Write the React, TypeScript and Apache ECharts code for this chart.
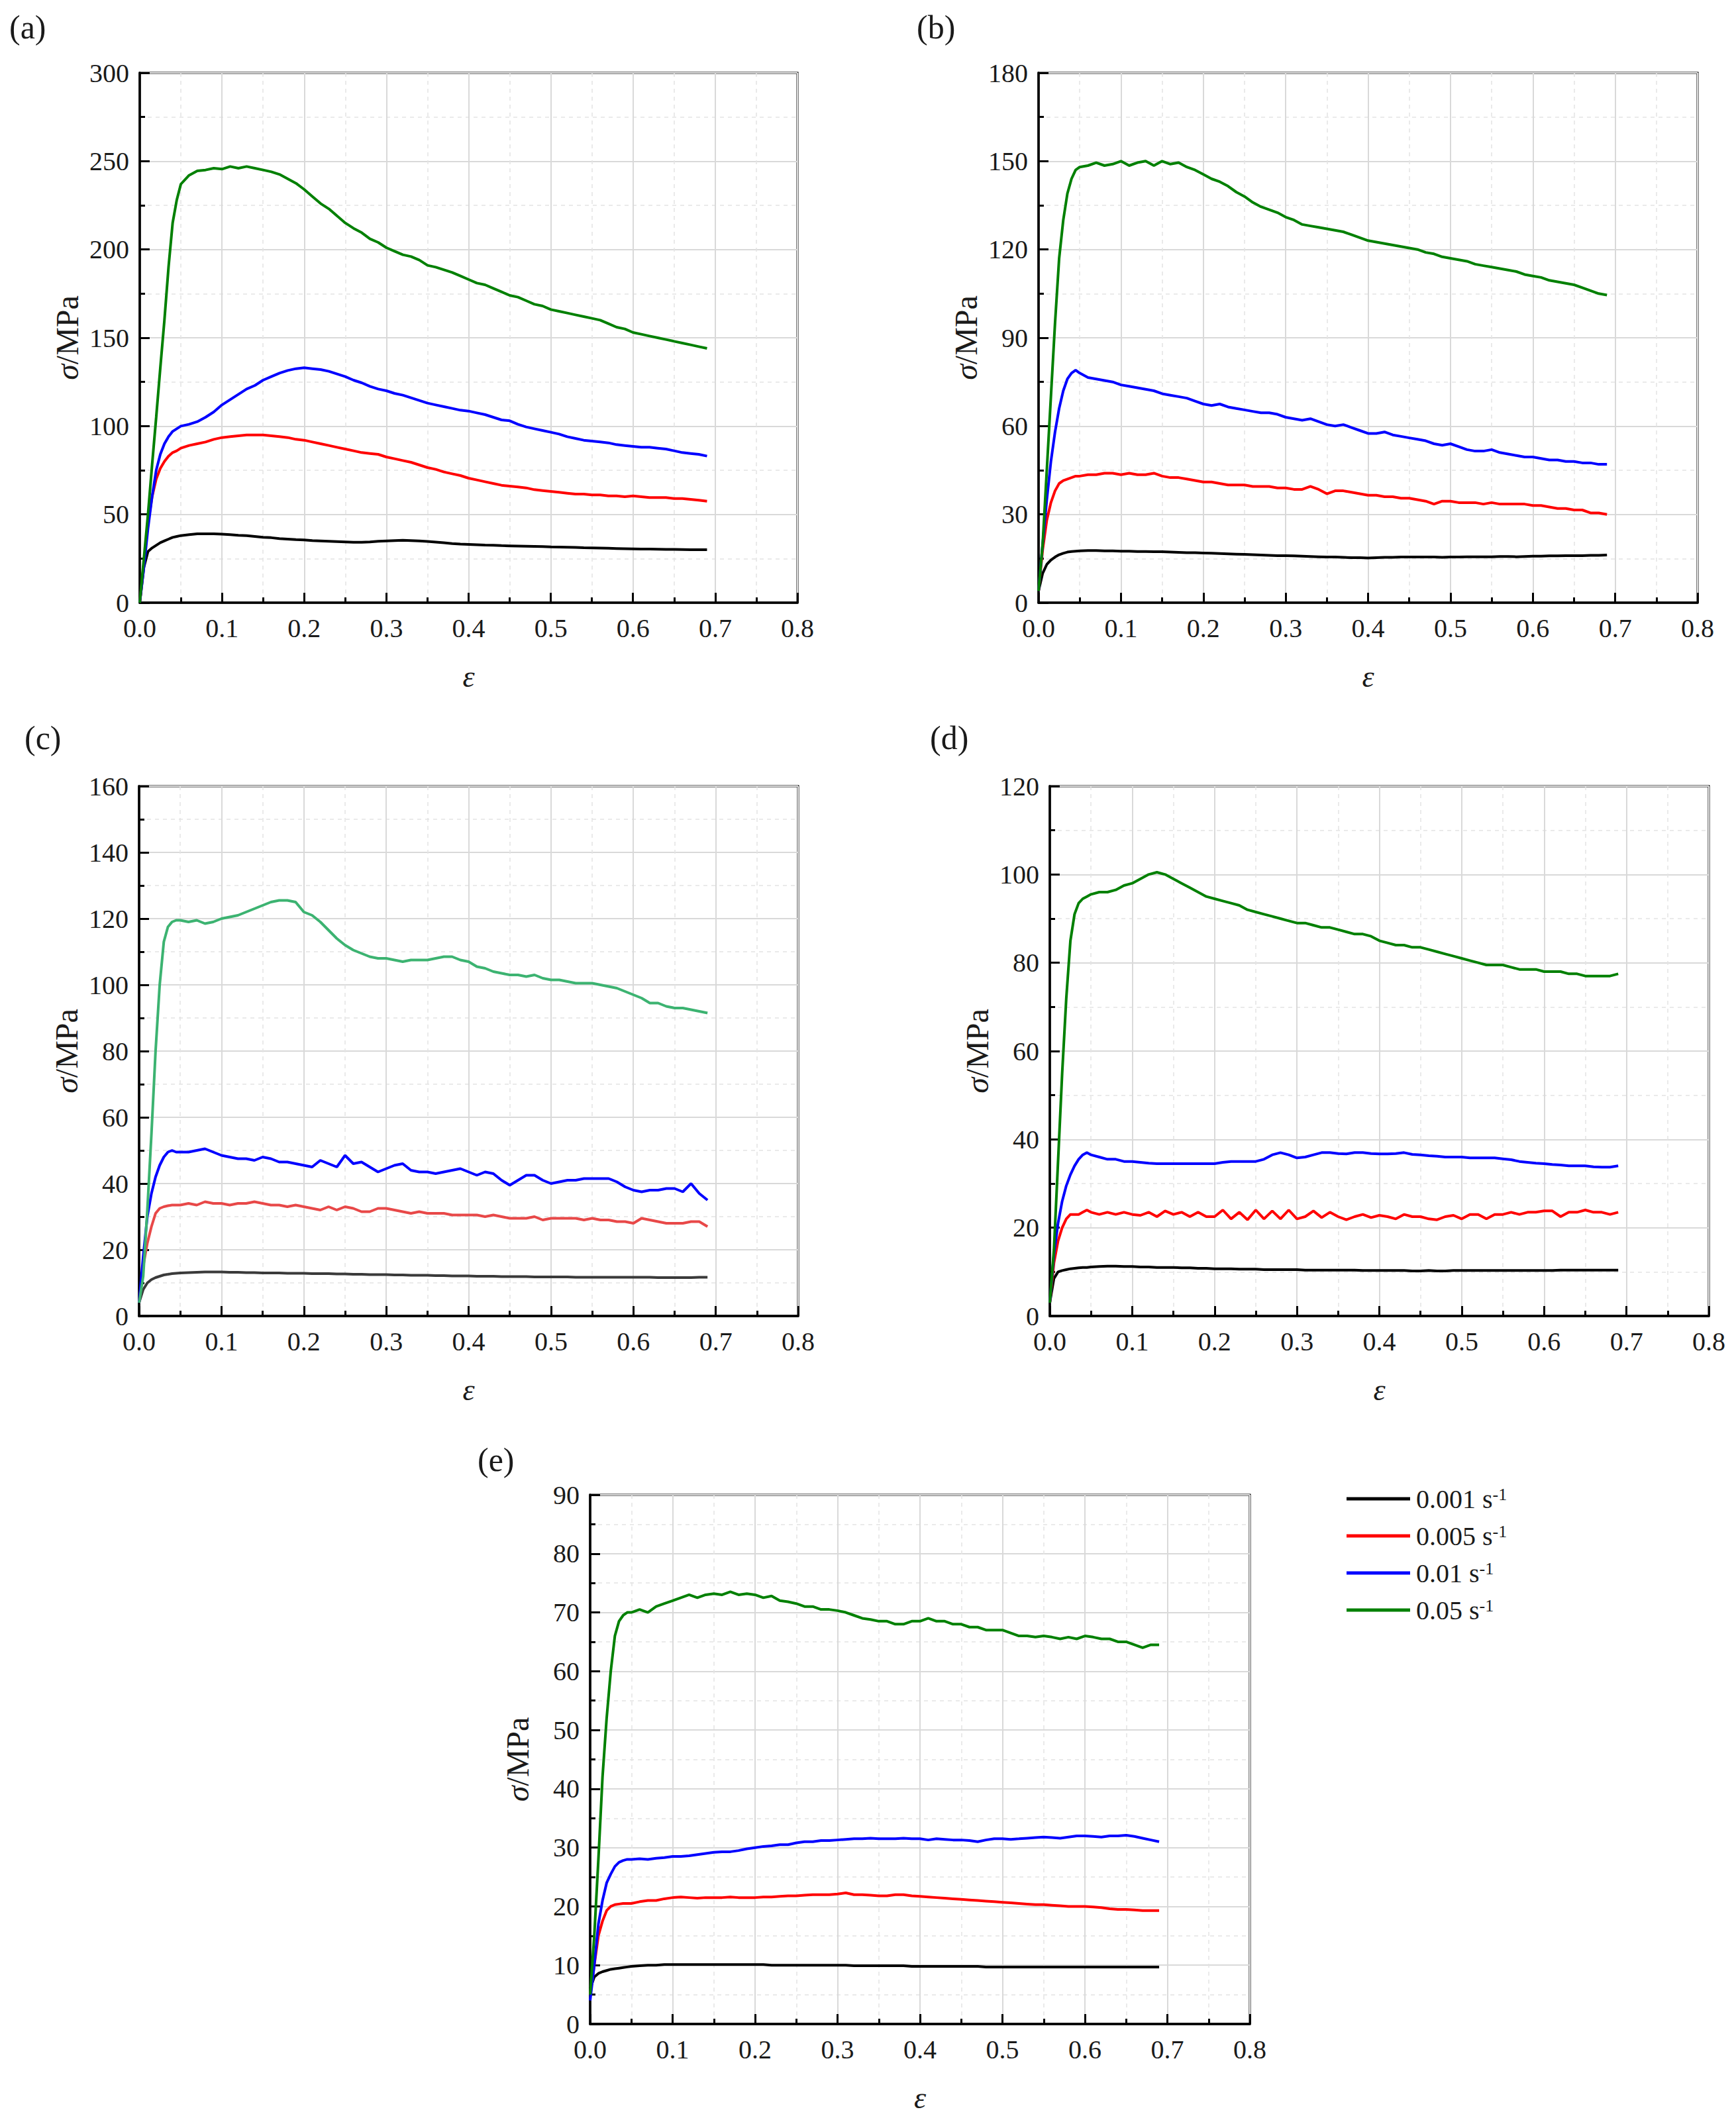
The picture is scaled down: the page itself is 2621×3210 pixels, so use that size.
import React, { useEffect, useRef } from "react";
import * as echarts from "echarts";

// strain values shared by every curve
const STRAIN = [
  0, 0.005, 0.01, 0.015, 0.02, 0.025, 0.03, 0.035, 0.04, 0.045,
  0.05, 0.06, 0.07, 0.08, 0.09, 0.1, 0.11, 0.12, 0.13, 0.14,
  0.15, 0.16, 0.17, 0.18, 0.19, 0.2, 0.21, 0.22, 0.23, 0.24,
  0.25, 0.26, 0.27, 0.28, 0.29, 0.3, 0.31, 0.32, 0.33, 0.34,
  0.35, 0.36, 0.37, 0.38, 0.39, 0.4, 0.41, 0.42, 0.43, 0.44,
  0.45, 0.46, 0.47, 0.48, 0.49, 0.5, 0.51, 0.52, 0.53, 0.54,
  0.55, 0.56, 0.57, 0.58, 0.59, 0.6, 0.61, 0.62, 0.63, 0.64,
  0.65, 0.66, 0.67, 0.68, 0.69,
];

const RATES = ["0.001", "0.005", "0.01", "0.05"];
const PANEL_LABELS = ["(a)", "(b)", "(c)", "(d)", "(e)"];
const Y_MAX = [300, 180, 160, 120, 90];
const Y_STEP = [50, 30, 20, 20, 10];
const X_MAX = 0.8;
const X_STEP = 0.1;

// ---- panel (a)
const A_BLACK = [
  0, 20, 29, 31, 32.5, 34, 35, 36, 37, 37.5,
  38, 38.5, 39, 39, 39, 38.8, 38.5, 38.2, 38, 37.5,
  37, 36.8, 36.3, 36, 35.7, 35.5, 35.2, 35, 34.8, 34.6,
  34.4, 34.2, 34.2, 34.4, 34.8, 35, 35.2, 35.3, 35.2, 35,
  34.7, 34.3, 33.9, 33.5, 33.2, 33, 32.8, 32.6, 32.5, 32.3,
  32.2, 32.1, 32, 31.9, 31.8, 31.6, 31.5, 31.4, 31.3, 31.1,
  31, 30.9, 30.8, 30.7, 30.6, 30.5, 30.4, 30.4, 30.3, 30.2,
  30.2, 30.1, 30, 30, 30,
];
const A_RED = [
  0, 22, 45, 60, 70, 76, 80, 83, 85, 86,
  87.5, 89, 90, 91, 92.5, 93.5, 94, 94.5, 95, 95,
  95, 94.5, 94, 93.5, 92.5, 92, 91, 90, 89, 88,
  87, 86, 85, 84.5, 84, 82.5, 81.5, 80.5, 79.5, 78,
  76.5, 75.5, 74, 73, 72, 70.5, 69.5, 68.5, 67.5, 66.5,
  66, 65.5, 65, 64, 63.5, 63, 62.5, 62, 61.5, 61.5,
  61, 61, 60.5, 60.5, 60, 60.5, 60, 59.5, 59.5, 59.5,
  59, 59, 58.5, 58, 57.5,
];
const A_BLUE = [
  0, 20, 42, 60, 75, 84, 90, 94, 97, 98.5,
  100, 101, 102.5, 105, 108, 112, 115, 118, 121, 123,
  126, 128, 130, 131.5, 132.5, 133, 132.5, 132, 131, 129.5,
  128, 126, 124.5, 122.5, 121, 120, 118.5, 117.5, 116, 114.5,
  113, 112, 111, 110, 109, 108.5, 107.5, 106.5, 105, 103.5,
  103, 101, 99.5, 98.5, 97.5, 96.5, 95.5, 94, 93, 92,
  91.5, 91, 90.5, 89.5, 89, 88.5, 88, 88, 87.5, 87,
  86, 85, 84.5, 84, 83,
];
const A_GREEN = [
  0, 25, 50, 78, 105, 133, 160, 190, 215, 228,
  237, 242, 244.5, 245, 246, 245.5, 247, 246, 247, 246,
  245, 244, 242.5, 240, 237.5, 234, 230, 226, 223, 219,
  215, 212, 209.5, 206, 204, 201, 199, 197, 196, 194,
  191, 190, 188.5, 187, 185, 183, 181, 180, 178, 176,
  174, 173, 171, 169, 168, 166, 165, 164, 163, 162,
  161, 160, 158, 156, 155, 153, 152, 151, 150, 149,
  148, 147, 146, 145, 144,
];

// ---- panel (b)
const B_BLACK = [
  4, 10, 13, 14.5, 15.5, 16.3, 16.8, 17.2, 17.4, 17.5,
  17.6, 17.7, 17.7, 17.6, 17.6, 17.5, 17.5, 17.4, 17.4, 17.3,
  17.3, 17.2, 17.1, 17, 17, 16.9, 16.8, 16.7, 16.6, 16.5,
  16.4, 16.3, 16.2, 16.1, 16, 16, 15.9, 15.8, 15.7, 15.6,
  15.5, 15.5, 15.4, 15.3, 15.3, 15.2, 15.3, 15.4, 15.4, 15.5,
  15.5, 15.5, 15.5, 15.5, 15.4, 15.5, 15.5, 15.6, 15.6, 15.6,
  15.6, 15.7, 15.7, 15.6, 15.7, 15.8, 15.8, 15.9, 15.9, 16,
  16, 16, 16.1, 16.1, 16.2,
];
const B_RED = [
  4, 18, 28, 34, 38, 40.5, 41.5, 42, 42.5, 43,
  43, 43.5, 43.5, 44, 44, 43.5, 44, 43.5, 43.5, 44,
  43, 42.5, 42.5, 42, 41.5, 41, 41, 40.5, 40, 40,
  40, 39.5, 39.5, 39.5, 39, 39, 38.5, 38.5, 39.5, 38.5,
  37, 38, 38, 37.5, 37, 36.5, 36.5, 36, 36, 35.5,
  35.5, 35, 34.5, 33.5, 34.5, 34.5, 34, 34, 34, 33.5,
  34, 33.5, 33.5, 33.5, 33.5, 33, 33, 32.5, 32, 32,
  31.5, 31.5, 30.5, 30.5, 30,
];
const B_BLUE = [
  4, 20, 35, 48, 58, 66, 72, 76, 78, 79,
  78, 76.5, 76, 75.5, 75, 74, 73.5, 73, 72.5, 72,
  71, 70.5, 70, 69.5, 68.5, 67.5, 67, 67.5, 66.5, 66,
  65.5, 65, 64.5, 64.5, 64, 63, 62.5, 62, 62.5, 61.5,
  60.5, 60, 60.5, 59.5, 58.5, 57.5, 57.5, 58, 57, 56.5,
  56, 55.5, 55, 54, 53.5, 54, 53, 52, 51.5, 51.5,
  52, 51, 50.5, 50, 49.5, 49.5, 49, 48.5, 48.5, 48,
  48, 47.5, 47.5, 47, 47,
];
const B_GREEN = [
  4, 20, 45, 70, 95, 117, 130, 139, 144, 147,
  148, 148.5, 149.5, 148.5, 149, 150, 148.5, 149.5, 150, 148.5,
  150, 149, 149.5, 148, 147, 145.5, 144, 143, 141.5, 139.5,
  138, 136, 134.5, 133.5, 132.5, 131, 130, 128.5, 128, 127.5,
  127, 126.5, 126, 125, 124, 123, 122.5, 122, 121.5, 121,
  120.5, 120, 119, 118.5, 117.5, 117, 116.5, 116, 115, 114.5,
  114, 113.5, 113, 112.5, 111.5, 111, 110.5, 109.5, 109, 108.5,
  108, 107, 106, 105, 104.5,
];

// ---- panel (c)
const C_BLACK = [
  4, 8, 10, 11, 11.6, 12, 12.4, 12.6, 12.8, 12.9,
  13, 13.1, 13.2, 13.3, 13.3, 13.3, 13.2, 13.2, 13.1, 13.1,
  13, 13, 13, 12.9, 12.9, 12.9, 12.8, 12.8, 12.8, 12.7,
  12.7, 12.6, 12.6, 12.5, 12.5, 12.5, 12.4, 12.4, 12.3, 12.3,
  12.3, 12.2, 12.2, 12.1, 12.1, 12.1, 12, 12, 12, 11.9,
  11.9, 11.9, 11.9, 11.8, 11.8, 11.8, 11.8, 11.8, 11.7, 11.7,
  11.7, 11.7, 11.7, 11.7, 11.7, 11.7, 11.7, 11.7, 11.6, 11.6,
  11.6, 11.6, 11.6, 11.7, 11.7,
];
const C_RED = [
  4, 15, 22, 27, 31, 32.5, 33, 33.3, 33.5, 33.5,
  33.5, 34, 33.5, 34.5, 34, 34, 33.5, 34, 34, 34.5,
  34, 33.5, 33.5, 33, 33.5, 33, 32.5, 32, 33, 32,
  33, 32.5, 31.5, 31.5, 32.5, 32.5, 32, 31.5, 31, 31.5,
  31, 31, 31, 30.5, 30.5, 30.5, 30.5, 30, 30.5, 30,
  29.5, 29.5, 29.5, 30, 29, 29.5, 29.5, 29.5, 29.5, 29,
  29.5, 29, 29, 28.5, 28.5, 28, 29.5, 29, 28.5, 28,
  28, 28, 28.5, 28.5, 27,
];
const C_BLUE = [
  4, 18, 30, 37, 42, 45.5, 48, 49.5, 50, 49.5,
  49.5, 49.5, 50, 50.5, 49.5, 48.5, 48, 47.5, 47.5, 47,
  48, 47.5, 46.5, 46.5, 46, 45.5, 45, 47, 46, 45,
  48.5, 46, 46.5, 45, 43.5, 44.5, 45.5, 46, 44, 43.5,
  43.5, 43, 43.5, 44, 44.5, 43.5, 42.5, 43.5, 43, 41,
  39.5, 41, 42.5, 42.5, 41, 40, 40.5, 41, 41, 41.5,
  41.5, 41.5, 41.5, 40.5, 39, 38, 37.5, 38, 38, 38.5,
  38.5, 37.5, 40, 37, 35,
];
const C_GREEN = [
  4, 12, 32, 55, 80, 100, 113, 117.5, 119, 119.5,
  119.5, 119, 119.5, 118.5, 119, 120, 120.5, 121, 122, 123,
  124, 125, 125.5, 125.5, 125, 122, 121, 119, 116.5, 114,
  112, 110.5, 109.5, 108.5, 108, 108, 107.5, 107, 107.5, 107.5,
  107.5, 108, 108.5, 108.5, 107.5, 107, 105.5, 105, 104, 103.5,
  103, 103, 102.5, 103, 102, 101.5, 101.5, 101, 100.5, 100.5,
  100.5, 100, 99.5, 99, 98, 97, 96, 94.5, 94.5, 93.5,
  93, 93, 92.5, 92, 91.5,
];

// ---- panel (d)
const D_BLACK = [
  3, 8.5, 10, 10.3, 10.5, 10.7, 10.8, 10.9, 11, 11,
  11.1, 11.2, 11.3, 11.3, 11.2, 11.2, 11.1, 11.1, 11, 11,
  11, 10.9, 10.9, 10.8, 10.8, 10.7, 10.7, 10.7, 10.6, 10.6,
  10.6, 10.5, 10.5, 10.5, 10.5, 10.5, 10.4, 10.4, 10.4, 10.4,
  10.4, 10.4, 10.4, 10.3, 10.3, 10.3, 10.3, 10.3, 10.3, 10.2,
  10.2, 10.3, 10.2, 10.2, 10.3, 10.3, 10.3, 10.3, 10.3, 10.3,
  10.3, 10.3, 10.3, 10.3, 10.3, 10.3, 10.3, 10.4, 10.4, 10.4,
  10.4, 10.4, 10.4, 10.4, 10.4,
];
const D_RED = [
  3, 12, 17, 20, 22, 23, 23, 23, 23.5, 24,
  23.5, 23, 23.5, 23, 23.5, 23, 22.8, 23.5, 22.5, 23.8,
  23, 23.5, 22.5, 23.5, 22.5, 22.5, 24, 22, 23.5, 21.8,
  24, 22, 23.8, 22, 24, 22, 22.5, 23.8, 22.3, 23.5,
  22.5, 21.8, 22.5, 23, 22.3, 22.8, 22.5, 22, 23, 22.5,
  22.5, 22, 21.8, 22.5, 22.8, 22, 23, 23, 22, 23,
  23, 23.5, 23, 23.5, 23.5, 23.8, 23.8, 22.5, 23.5, 23.5,
  24, 23.5, 23.5, 23, 23.5,
];
const D_BLUE = [
  3, 14, 21, 26, 29.5, 32, 34, 35.5, 36.5, 37,
  36.5, 36, 35.5, 35.5, 35, 35, 34.8, 34.6, 34.5, 34.5,
  34.5, 34.5, 34.5, 34.5, 34.5, 34.5, 34.8, 35, 35, 35,
  35, 35.5, 36.5, 37, 36.5, 35.8, 36, 36.5, 37, 37,
  36.8, 36.7, 37, 37, 36.8, 36.7, 36.7, 36.8, 37, 36.6,
  36.5, 36.3, 36.2, 36, 36, 36, 35.8, 35.8, 35.8, 35.8,
  35.6, 35.4, 35, 34.8, 34.6, 34.5, 34.3, 34.2, 34, 34,
  34, 33.8, 33.7, 33.7, 34,
];
const D_GREEN = [
  3, 15, 35, 55, 72, 85, 91, 93.5, 94.5, 95,
  95.5, 96, 96, 96.5, 97.5, 98, 99, 100, 100.5, 100,
  99, 98, 97, 96, 95, 94.5, 94, 93.5, 93, 92,
  91.5, 91, 90.5, 90, 89.5, 89, 89, 88.5, 88, 88,
  87.5, 87, 86.5, 86.5, 86, 85, 84.5, 84, 84, 83.5,
  83.5, 83, 82.5, 82, 81.5, 81, 80.5, 80, 79.5, 79.5,
  79.5, 79, 78.5, 78.5, 78.5, 78, 78, 78, 77.5, 77.5,
  77, 77, 77, 77, 77.5,
];

// ---- panel (e)
const E_BLACK = [
  6, 8, 8.6, 8.9, 9.1, 9.3, 9.4, 9.5, 9.6, 9.7,
  9.8, 9.9, 10, 10, 10.1, 10.1, 10.1, 10.1, 10.1, 10.1,
  10.1, 10.1, 10.1, 10.1, 10.1, 10.1, 10.1, 10, 10, 10,
  10, 10, 10, 10, 10, 10, 10, 9.9, 9.9, 9.9,
  9.9, 9.9, 9.9, 9.9, 9.8, 9.8, 9.8, 9.8, 9.8, 9.8,
  9.8, 9.8, 9.8, 9.7, 9.7, 9.7, 9.7, 9.7, 9.7, 9.7,
  9.7, 9.7, 9.7, 9.7, 9.7, 9.7, 9.7, 9.7, 9.7, 9.7,
  9.7, 9.7, 9.7, 9.7, 9.7,
];
const E_RED = [
  5, 10, 15, 17.5, 19.3, 20, 20.3, 20.4, 20.5, 20.5,
  20.5, 20.8, 21, 21, 21.3, 21.5, 21.6, 21.5, 21.4, 21.5,
  21.5, 21.5, 21.6, 21.5, 21.5, 21.5, 21.6, 21.6, 21.7, 21.8,
  21.8, 21.9, 22, 22, 22, 22.1, 22.3, 22, 22, 21.9,
  21.8, 21.8, 22, 22, 21.8, 21.7, 21.6, 21.5, 21.4, 21.3,
  21.2, 21.1, 21, 20.9, 20.8, 20.7, 20.6, 20.5, 20.4, 20.3,
  20.3, 20.2, 20.1, 20, 20, 20, 19.9, 19.8, 19.6, 19.5,
  19.5, 19.4, 19.3, 19.3, 19.3,
];
const E_BLUE = [
  4, 10, 17, 21, 24, 25.5, 26.8, 27.5, 27.8, 28,
  28, 28.1, 28, 28.2, 28.3, 28.5, 28.5, 28.6, 28.8, 29,
  29.2, 29.3, 29.3, 29.5, 29.8, 30, 30.2, 30.3, 30.5, 30.5,
  30.8, 31, 31, 31.2, 31.2, 31.3, 31.4, 31.5, 31.5, 31.6,
  31.5, 31.5, 31.5, 31.6, 31.5, 31.5, 31.3, 31.5, 31.4, 31.3,
  31.3, 31.2, 31, 31.3, 31.5, 31.5, 31.4, 31.5, 31.6, 31.7,
  31.8, 31.7, 31.6, 31.8, 32, 32, 31.9, 31.8, 32, 32,
  32.1, 31.9, 31.6, 31.3, 31,
];
const E_GREEN = [
  5, 15, 28, 42, 52, 60, 66, 68.5, 69.5, 70,
  70, 70.5, 70, 71, 71.5, 72, 72.5, 73, 72.5, 73,
  73.2, 73, 73.5, 73, 73.2, 73, 72.5, 72.8, 72, 71.8,
  71.5, 71, 71, 70.5, 70.5, 70.3, 70, 69.5, 69, 68.8,
  68.5, 68.5, 68, 68, 68.5, 68.5, 69, 68.5, 68.5, 68,
  68, 67.5, 67.5, 67, 67, 67, 66.5, 66, 66, 65.8,
  66, 65.8, 65.5, 65.8, 65.5, 66, 65.8, 65.5, 65.5, 65,
  65, 64.5, 64, 64.5, 64.5,
];

const PANEL_SERIES = [
  [A_BLACK, A_RED, A_BLUE, A_GREEN],
  [B_BLACK, B_RED, B_BLUE, B_GREEN],
  [C_BLACK, C_RED, C_BLUE, C_GREEN],
  [D_BLACK, D_RED, D_BLUE, D_GREEN],
  [E_BLACK, E_RED, E_BLUE, E_GREEN],
];

const COLORS = ["#000000", "#ff0000", "#0000ff", "#008000"];
const COLORS_C = ["#3a3a3a", "#e84848", "#0000ff", "#3cb371"];

// layout (pixels)
const GRIDS = [
  { left: 211, top: 110, width: 993, height: 800 },
  { left: 1568, top: 110, width: 995, height: 800 },
  { left: 210, top: 1187, width: 995, height: 800 },
  { left: 1585, top: 1187, width: 995, height: 800 },
  { left: 891, top: 2257, width: 996, height: 799 },
];
const LABEL_POS = [
  [14, 44],
  [1384, 44],
  [37, 1117],
  [1404, 1117],
  [721, 2207],
];

const FONT = "'Liberation Serif', 'Times New Roman', serif";
const TXT = "#1a1a1a";

function buildOption() {
  const grid = GRIDS.map((g) => ({
    ...g,
    show: true,
    borderColor: "#000",
    borderWidth: 3,
    backgroundColor: "transparent",
  }));
  const common = {
    axisLine: { show: true, onZero: false, lineStyle: { color: "#000", width: 3.5 } },
    axisTick: { show: true, inside: true, length: 15, lineStyle: { color: "#000", width: 3 } },
    minorTick: { show: true, splitNumber: 2, length: 8, lineStyle: { color: "#000", width: 3 } },
    splitLine: { show: true, lineStyle: { color: "#d9d9d9", width: 2 } },
    minorSplitLine: { show: true, lineStyle: { color: "#e3e3e3", width: 1.5, type: [6, 6] } },
  };
  const xAxis = GRIDS.map((_, i) => ({
    type: "value",
    gridIndex: i,
    min: 0,
    max: X_MAX,
    interval: X_STEP,
    ...common,
    axisLabel: {
      show: true,
      margin: 18,
      fontFamily: FONT,
      fontSize: 40,
      color: TXT,
      showMinLabel: true,
      showMaxLabel: true,
      formatter: (v: number) => v.toFixed(1),
    },
    name: "{i|ε}",
    nameLocation: "middle",
    nameGap: 88,
    nameTextStyle: {
      fontFamily: FONT,
      fontSize: 46,
      color: TXT,
      rich: { i: { fontFamily: FONT, fontSize: 46, fontStyle: "italic", color: TXT } },
    },
  }));
  const yAxis = GRIDS.map((_, i) => ({
    type: "value",
    gridIndex: i,
    min: 0,
    max: Y_MAX[i],
    interval: Y_STEP[i],
    ...common,
    axisLabel: {
      show: true,
      margin: 16,
      fontFamily: FONT,
      fontSize: 40,
      color: TXT,
      showMinLabel: true,
      showMaxLabel: true,
    },
    name: "{i|σ}/MPa",
    nameLocation: "middle",
    nameGap: 86,
    nameTextStyle: {
      fontFamily: FONT,
      fontSize: 48,
      color: TXT,
      rich: { i: { fontFamily: FONT, fontSize: 48, fontStyle: "italic", color: TXT } },
    },
  }));
  const series: any[] = [];
  PANEL_SERIES.forEach((panel, p) => {
    panel.forEach((ys, k) => {
      series.push({
        type: "line",
        name: RATES[k],
        xAxisIndex: p,
        yAxisIndex: p,
        symbol: "none",
        showSymbol: false,
        smooth: false,
        lineStyle: { color: (p === 2 ? COLORS_C : COLORS)[k], width: 4 },
        itemStyle: { color: (p === 2 ? COLORS_C : COLORS)[k] },
        data: STRAIN.map((x, j) => [x, ys[j]]),
        z: 3 + k,
      });
    });
  });
  const graphic = PANEL_LABELS.map((t, i) => ({
    type: "text",
    left: LABEL_POS[i][0],
    top: LABEL_POS[i][1] - 28,
    style: { text: t, font: `50px ${FONT}`, fill: TXT },
  }));
  return {
    animation: false,
    backgroundColor: "#ffffff",
    grid,
    xAxis,
    yAxis,
    series,
    graphic,
    legend: {
      show: true,
      data: RATES,
      orient: "vertical",
      left: 2028,
      top: 2238,
      itemWidth: 96,
      itemHeight: 5,
      itemGap: 16,
      icon: "rect",
      formatter: (name: string) => `${name} s{sup|-1}`,
      textStyle: {
        fontFamily: FONT,
        fontSize: 40,
        color: TXT,
        padding: [0, 0, 0, 4],
        rich: {
          sup: { fontFamily: FONT, fontSize: 26, color: TXT, verticalAlign: "top", padding: [0, 0, 14, 0] },
        },
      },
    },
  };
}

export default function App() {
  const ref = useRef<HTMLDivElement>(null);
  useEffect(() => {
    document.body.style.margin = "0";
    if (!ref.current) return;
    const chart = echarts.init(ref.current, undefined, { renderer: "svg" });
    chart.setOption(buildOption() as any);
    return () => chart.dispose();
  }, []);
  return <div ref={ref} style={{ width: 2621, height: 3210, background: "#fff" }} />;
}
